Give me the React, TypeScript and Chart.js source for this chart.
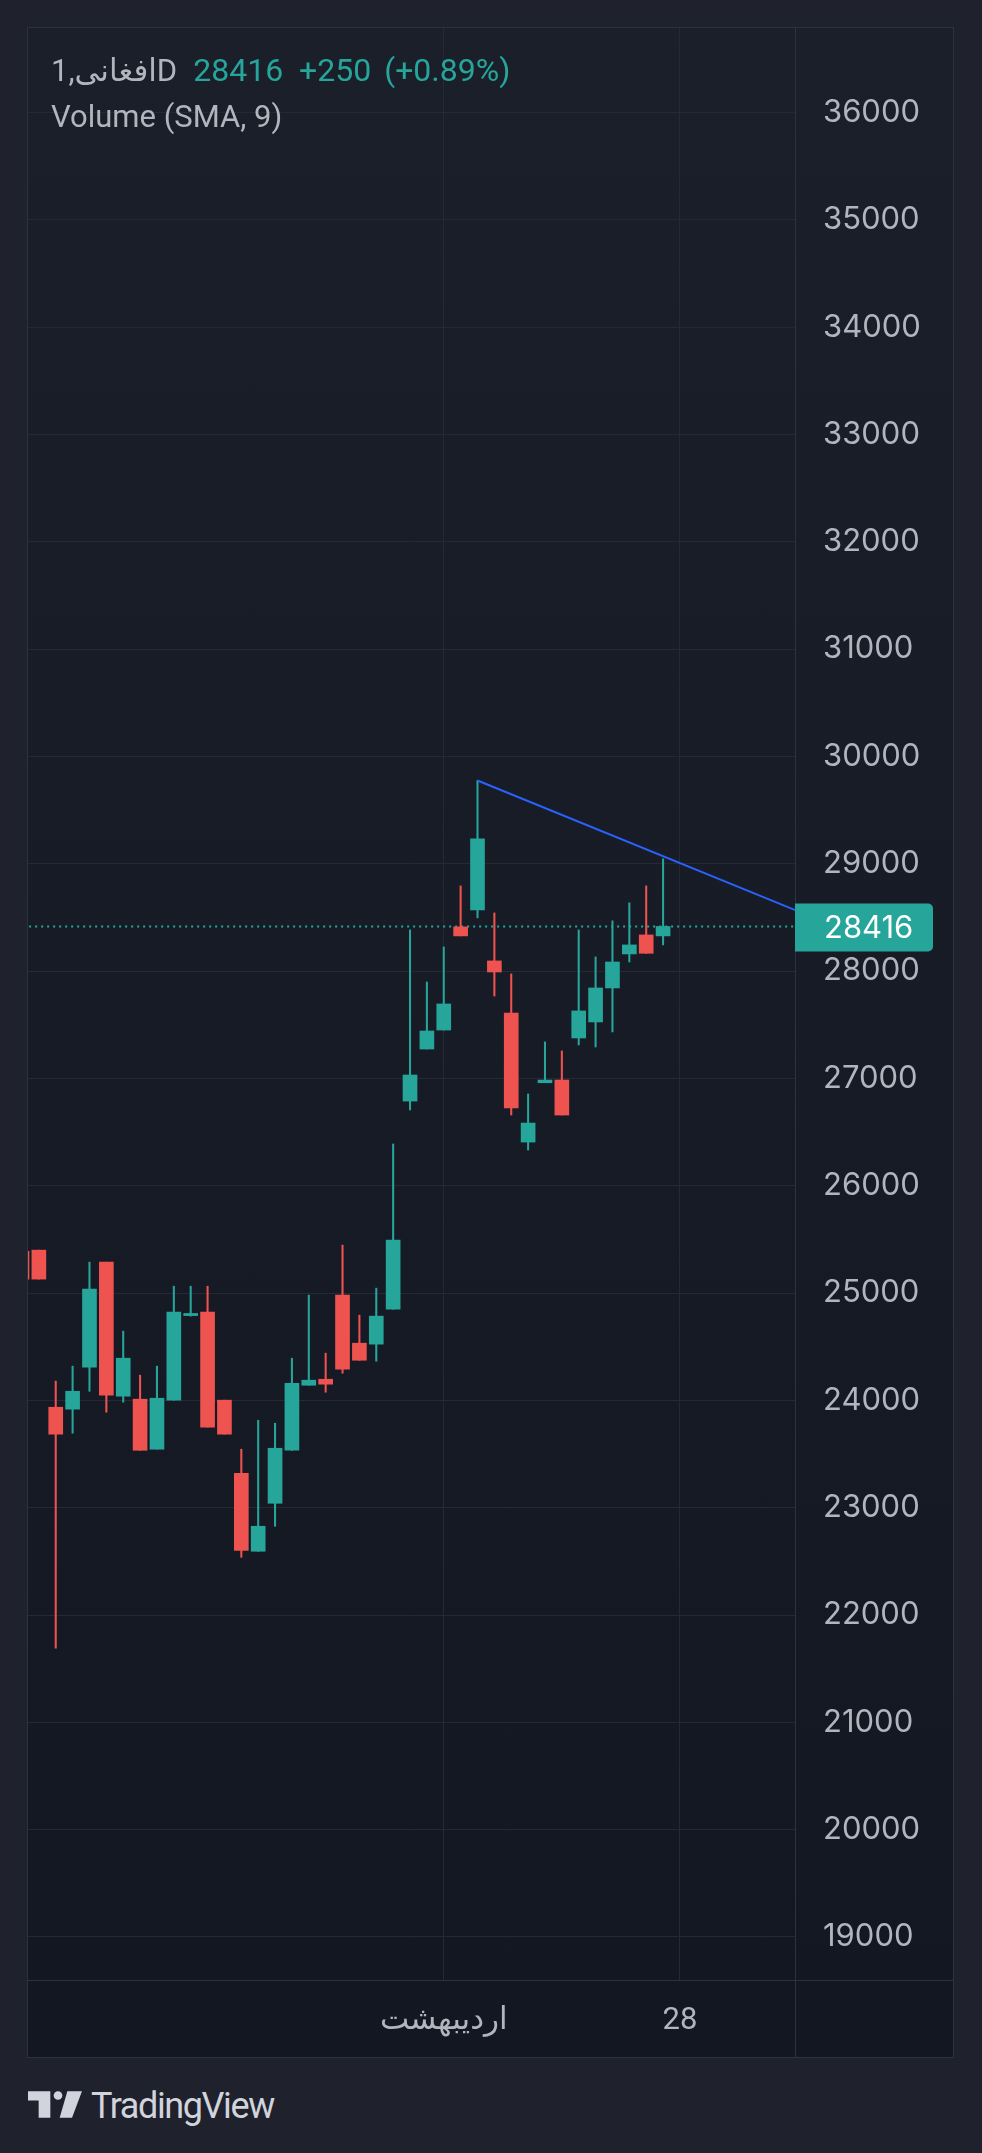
import React, { useEffect, useRef } from "react";
import { Chart, registerables } from "chart.js";

Chart.register(...registerables);

// ---- data ----
const candleIndex = [0, 1, 2, 3, 4, 5, 6, 7, 8, 9, 10, 11, 12, 13, 14, 15, 16, 17, 18, 19, 20, 21, 22, 23, 24, 25, 26, 27, 28, 29, 30, 31, 32, 33, 34, 35, 36, 37, 38];
const opens = [25390, 25400, 23936, 23918, 24309, 25288, 24039, 24011, 23545, 24002, 24790, 24822, 24002, 23321, 22594, 23041, 23535, 24141, 24197, 24981, 24533, 24524, 24850, 26789, 27274, 27451, 28412, 28570, 28095, 27610, 26407, 26960, 26985, 27377, 27526, 27843, 28160, 28337, 28328];
const highs = [25400, 25400, 24179, 24319, 25288, 25288, 24645, 24235, 24319, 25064, 25064, 25064, 24002, 23545, 23815, 23787, 24393, 24981, 24440, 25447, 24794, 25046, 26389, 28384, 27899, 28225, 28794, 29776, 28542, 27974, 26855, 27340, 27256, 28384, 28132, 28468, 28636, 28794, 29046];
const lows = [25130, 25130, 21692, 23694, 24085, 23890, 23983, 23535, 23545, 24002, 24785, 23750, 23685, 22538, 22594, 22827, 23535, 24141, 24076, 24253, 24374, 24365, 24850, 26706, 27274, 27451, 28328, 28496, 27768, 26659, 26333, 26960, 26659, 27312, 27293, 27433, 28085, 28166, 28244];
const closes = [25130, 25130, 23685, 24085, 25037, 24048, 24393, 23535, 24020, 24822, 24810, 23750, 23685, 22603, 22827, 23554, 24160, 24188, 24151, 24291, 24374, 24785, 25493, 27032, 27442, 27694, 28328, 29232, 27992, 26724, 26584, 26985, 26659, 27629, 27843, 28085, 28244, 28166, 28416];

const xTickValues = [25, 39];
const xTickLabels = ["اردیبهشت", "28"];
const yTickValues = [19000, 20000, 21000, 22000, 23000, 24000, 25000, 26000, 27000, 28000, 29000, 30000, 31000, 32000, 33000, 34000, 35000, 36000];
const yMin = 18599;
const yMax = 36788;
const xMin = 0.356;
const xMax = 45.82;

const trendX = [27, 46];
const trendY = [29776, 28558];

const lastPrice = 28416;
const symbolText = "1,افغانیD";
const priceText = "28416";
const changeText = "+250";
const changePctText = "(+0.89%)";
const indicatorText = "Volume (SMA, 9)";

// ---- styles ----
const UP = "#26a69a";
const DOWN = "#ef5350";
const GRID = "#252934";
const BORDER = "#2e323d";
const LABEL = "#b2b5be";
const AXIS_FONT = "Inter, Roboto, 'DejaVu Sans', sans-serif";
const TEXT_FONT = "Roboto, 'DejaVu Sans', sans-serif";

const zeroPadding = (s: any) => {
  s.paddingTop = 0;
  s.paddingBottom = 0;
  s.paddingLeft = 0;
  s.paddingRight = 0;
};

const overlayPlugin = {
  id: "overlayPlugin",
  afterDraw(chart: any) {
    const { ctx, chartArea, scales } = chart;
    const y = scales.y;
    ctx.save();
    ctx.strokeStyle = BORDER;
    ctx.lineWidth = 1;
    ctx.beginPath();
    ctx.moveTo(Math.round(chartArea.right) + 0.5, 0);
    ctx.lineTo(Math.round(chartArea.right) + 0.5, chart.height);
    ctx.moveTo(0, Math.round(chartArea.bottom) + 0.5);
    ctx.lineTo(chart.width, Math.round(chartArea.bottom) + 0.5);
    ctx.stroke();

    const py = y.getPixelForValue(lastPrice);
    const h = 48;
    const w = 138;
    ctx.fillStyle = UP;
    ctx.beginPath();
    ctx.roundRect(chartArea.right, py - h / 2 + 1, w, h, [0, 5, 5, 0]);
    ctx.fill();
    ctx.fillStyle = "#ffffff";
    ctx.font = `31px ${AXIS_FONT}`;
    ctx.textBaseline = "middle";
    ctx.textAlign = "left";
    ctx.fillText(String(lastPrice), chartArea.right + 29, py + 2);
    ctx.restore();
  },
};

export default function App() {
  const ref = useRef<HTMLCanvasElement>(null);

  useEffect(() => {
    const colors = candleIndex.map((_, i) => (closes[i] >= opens[i] ? UP : DOWN));
    const wickData = candleIndex.map((x, i) => ({ x, y: [lows[i], highs[i]] }));
    const bodyData = candleIndex.map((x, i) => ({ x, y: [opens[i], closes[i]] }));
    const trendData = trendX.map((x, i) => ({ x, y: trendY[i] }));
    const priceData = [
      { x: xMin - 1, y: lastPrice },
      { x: xMax + 1, y: lastPrice },
    ];

    const chart = new Chart(ref.current as HTMLCanvasElement, {
      type: "bar",
      data: {
        datasets: [
          {
            type: "line",
            data: priceData as any,
            borderColor: UP,
            borderWidth: 2,
            borderDash: [2, 4],
            pointRadius: 0,
            order: 5,
            clip: 0,
          } as any,
          {
            type: "bar",
            data: wickData as any,
            backgroundColor: colors,
            borderWidth: 0,
            barThickness: 1.4,
            grouped: false,
            order: 3,
            clip: 0,
          } as any,
          {
            type: "bar",
            data: bodyData as any,
            backgroundColor: colors,
            borderWidth: 0,
            barThickness: 14,
            grouped: false,
            order: 2,
            clip: 0,
          } as any,
          {
            type: "line",
            data: trendData as any,
            borderColor: "#2962ff",
            borderWidth: 2,
            pointRadius: 0,
            order: 1,
            clip: 0,
          } as any,
        ],
      },
      options: {
        responsive: false,
        maintainAspectRatio: false,
        animation: false,
        layout: { padding: 0 },
        plugins: {
          legend: { display: false },
          tooltip: { enabled: false },
        },
        scales: {
          x: {
            type: "linear",
            min: xMin,
            max: xMax,
            offset: false,
            grid: { color: GRID, drawTicks: false, offset: false, lineWidth: 1 },
            border: { display: false },
            afterBuildTicks: (s: any) => {
              s.ticks = xTickValues.map((v) => ({ value: v }));
            },
            afterFit: (s: any) => {
              s.height = 77;
              zeroPadding(s);
            },
            ticks: {
              autoSkip: false,
              maxRotation: 0,
              padding: 23,
              color: LABEL,
              font: { family: TEXT_FONT, size: 31 },
              callback: (_v: any, i: number) => xTickLabels[i],
            },
          },
          y: {
            type: "linear",
            position: "right",
            min: yMin,
            max: yMax,
            grid: { color: GRID, drawTicks: false, lineWidth: 1 },
            border: { display: false },
            afterBuildTicks: (s: any) => {
              s.ticks = yTickValues.map((v) => ({ value: v }));
            },
            afterFit: (s: any) => {
              s.width = 158;
              zeroPadding(s);
            },
            ticks: {
              autoSkip: false,
              padding: 28,
              crossAlign: "near",
              color: LABEL,
              font: { family: AXIS_FONT, size: 31 },
              callback: (v: any) => String(v),
            },
          },
        } as any,
      },
      plugins: [overlayPlugin],
    });
    return () => chart.destroy();
  }, []);

  return (
    <div
      style={{
        position: "absolute",
        left: 0,
        top: 0,
        width: 982,
        height: 2153,
        background: "#1f222d",
        overflow: "hidden",
      }}
    >
      <div
        style={{
          position: "absolute",
          left: 27,
          top: 27,
          width: 925,
          height: 2029,
          border: `1px solid ${BORDER}`,
          background: "linear-gradient(#1b1f2a, #131722)",
        }}
      >
        <canvas ref={ref} width={925} height={2029} style={{ display: "block", width: 925, height: 2029 }} />
      </div>
      <div
        style={{
          position: "absolute",
          left: 51,
          top: 55,
          fontFamily: TEXT_FONT,
          fontSize: 31,
          lineHeight: "31px",
          whiteSpace: "nowrap",
          color: LABEL,
        }}
      >
        <span>{symbolText}</span>
        <span style={{ color: UP, fontSize: 32, marginLeft: 16 }}>{priceText}</span>
        <span style={{ color: UP, fontSize: 32, marginLeft: 16 }}>{changeText}</span>
        <span style={{ color: UP, fontSize: 32, marginLeft: 13 }}>{changePctText}</span>
      </div>
      <div
        style={{
          position: "absolute",
          left: 51,
          top: 101,
          fontFamily: TEXT_FONT,
          fontSize: 31,
          lineHeight: "31px",
          whiteSpace: "nowrap",
          color: LABEL,
        }}
      >
        {indicatorText}
      </div>
      <svg
        style={{ position: "absolute", left: 28, top: 2091 }}
        width={54}
        height={27}
        viewBox="0 0 162 80"
      >
        <path d="M0 0 H67 V80 H32 V28 H0 Z" fill="#d1d4dc" />
        <circle cx={90} cy={13} r={13} fill="#d1d4dc" />
        <path d="M118 0 H162 L132 80 H95 Z" fill="#d1d4dc" />
      </svg>
      <div
        style={{
          position: "absolute",
          left: 91,
          top: 2088,
          fontFamily: TEXT_FONT,
          fontSize: 36,
          lineHeight: "36px",
          letterSpacing: "-1.4px",
          color: "#d1d4dc",
          whiteSpace: "nowrap",
        }}
      >
        TradingView
      </div>
    </div>
  );
}
